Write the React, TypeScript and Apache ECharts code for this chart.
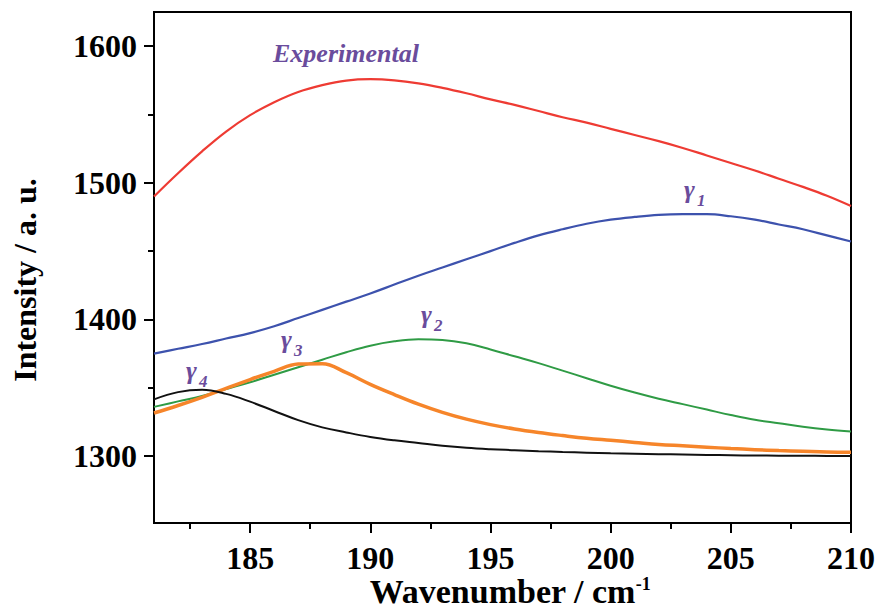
import React, { useEffect, useRef } from "react";
import * as echarts from "echarts";

const wavenumber = [181, 182, 183, 184, 185, 186, 187, 188, 189, 190, 191, 192, 193, 194, 195, 196, 197, 198, 199, 200, 201, 202, 203, 204, 205, 206, 207, 208, 209, 210];

const experimental = [1490, 1507, 1523, 1537.5, 1549.5, 1559, 1566.5, 1571.5, 1574.8, 1575.8, 1575, 1572.8, 1569.5, 1565.5, 1561, 1557, 1552.5, 1548, 1544, 1539.5, 1535, 1530.5, 1525.5, 1520, 1514.5, 1509, 1503, 1497, 1490.5, 1483];
const gamma1 = [1375, 1378.5, 1382, 1386, 1390, 1395, 1401, 1407, 1413, 1419, 1425.5, 1432, 1438, 1444, 1450, 1456, 1461.5, 1466, 1470, 1473, 1475, 1476.5, 1477, 1477, 1475.5, 1473, 1469.5, 1466, 1461.5, 1457];
const gamma2 = [1336, 1340, 1344, 1349, 1354, 1359.5, 1365, 1370.5, 1376, 1380.8, 1384, 1385.5, 1385, 1382.5, 1378, 1373, 1368, 1362.5, 1357, 1351.5, 1346.5, 1342, 1338, 1334, 1330, 1326.5, 1324, 1321.5, 1319.5, 1318];
const gamma3 = [1331.5, 1337, 1343, 1349.5, 1356, 1362, 1367.3, 1367.6, 1361, 1352.5, 1345, 1338, 1332, 1327, 1323, 1319.8, 1317.2, 1315, 1313, 1311.5, 1310, 1308.5, 1307.5, 1306.5, 1305.5, 1304.7, 1304, 1303.5, 1303, 1302.8];
const gamma4 = [1341.5, 1346.8, 1348.5, 1345.5, 1339.8, 1333, 1326.3, 1321, 1317.3, 1314, 1311.5, 1309.5, 1307.5, 1306, 1305, 1304.3, 1303.6, 1303, 1302.5, 1302, 1301.7, 1301.4, 1301.1, 1300.8, 1300.6, 1300.4, 1300.3, 1300.2, 1300.1, 1300];

const xMajorTicks = [185, 190, 195, 200, 205, 210];
const xMinorTicks = [182.5, 187.5, 192.5, 197.5, 202.5, 207.5];
const yMajorTicks = [1300, 1400, 1500, 1600];
const yMinorTicks = [1350, 1450, 1550];

const FONT = "'Liberation Serif', 'Times New Roman', serif";
const PURPLE = "#6a4c9c";

const pairs = (ys: number[]) => wavenumber.map((x, i) => [x, ys[i]]);

export default function App() {
  const ref = useRef<HTMLDivElement>(null);
  useEffect(() => {
    document.body.style.margin = "0";
    const chart = echarts.init(ref.current!, null, { renderer: "svg" });
    const tickStyle = { color: "#000", width: 2 };
    const gammaLabel = (x: number, y: number, sub: string) => [
      {
        type: "text",
        x,
        y,
        style: { text: "γ", fontSize: 26, fontWeight: "bold", fontStyle: "italic", fontFamily: FONT, fill: PURPLE, align: "left", verticalAlign: "middle" },
      },
      {
        type: "text",
        x: x + 13,
        y: y + 11,
        style: { text: sub, fontSize: 17, fontWeight: "bold", fontStyle: "italic", fontFamily: FONT, fill: PURPLE, align: "left", verticalAlign: "middle" },
      },
    ];
    chart.setOption({
      animation: false,
      grid: { left: 154, right: 28, top: 12, bottom: 87, show: true, borderColor: "#000", borderWidth: 2, containLabel: false },
      xAxis: [
        {
          type: "value",
          min: 181,
          max: 210,
          position: "bottom",
          axisLine: { show: true, lineStyle: { color: "#000", width: 2 } },
          axisTick: { show: true, customValues: xMajorTicks, length: 10, inside: false, lineStyle: tickStyle },
          axisLabel: { customValues: xMajorTicks, fontSize: 32, fontWeight: "bold", fontFamily: FONT, color: "#000", margin: 20, lineHeight: 30, formatter: (v: number) => String(v) },
          splitLine: { show: false },
        },
        {
          type: "value",
          min: 181,
          max: 210,
          position: "bottom",
          offset: 0,
          axisLine: { show: false },
          axisTick: { show: true, customValues: xMinorTicks, length: 6, inside: false, lineStyle: tickStyle },
          axisLabel: { show: false },
          splitLine: { show: false },
        },
      ],
      yAxis: [
        {
          type: "value",
          min: 1251,
          max: 1625,
          position: "left",
          axisLine: { show: true, lineStyle: { color: "#000", width: 2 } },
          axisTick: { show: true, customValues: yMajorTicks, length: 10, inside: false, lineStyle: tickStyle },
          axisLabel: { customValues: yMajorTicks, fontSize: 32, fontWeight: "bold", fontFamily: FONT, color: "#000", margin: 17, formatter: (v: number) => String(v) },
          splitLine: { show: false },
        },
        {
          type: "value",
          min: 1251,
          max: 1625,
          position: "left",
          offset: 0,
          axisLine: { show: false },
          axisTick: { show: true, customValues: yMinorTicks, length: 6, inside: false, lineStyle: tickStyle },
          axisLabel: { show: false },
          splitLine: { show: false },
        },
      ],
      series: [
        { name: "Experimental", type: "line", data: pairs(experimental), smooth: 0.4, showSymbol: false, lineStyle: { color: "#ee3b33", width: 2.2 }, z: 3 },
        { name: "γ1", type: "line", data: pairs(gamma1), smooth: 0.4, showSymbol: false, lineStyle: { color: "#3d52ad", width: 2.2 }, z: 3 },
        { name: "γ2", type: "line", data: pairs(gamma2), smooth: 0.4, showSymbol: false, lineStyle: { color: "#2f9b45", width: 2 }, z: 3 },
        { name: "γ3", type: "line", data: pairs(gamma3), smooth: 0.4, showSymbol: false, lineStyle: { color: "#f6852a", width: 3.5 }, z: 4 },
        { name: "γ4", type: "line", data: pairs(gamma4), smooth: 0.4, showSymbol: false, lineStyle: { color: "#111", width: 2 }, z: 5 },
      ],
      graphic: [
        {
          type: "text",
          x: 273,
          y: 53,
          style: { text: "Experimental", fontSize: 26, fontWeight: "bold", fontStyle: "italic", fontFamily: FONT, fill: PURPLE, align: "left", verticalAlign: "middle" },
        },
        ...gammaLabel(684, 189, "1"),
        ...gammaLabel(421, 314, "2"),
        ...gammaLabel(281, 339, "3"),
        ...gammaLabel(186, 370, "4"),
        {
          type: "text",
          x: 510,
          y: 591,
          style: {
            text: "{t|Wavenumber / cm}{s|-1}",
            align: "center",
            verticalAlign: "middle",
            rich: {
              t: { fontSize: 34, fontWeight: "bold", fontFamily: FONT, fill: "#000", lineHeight: 32 },
              s: { fontSize: 18, fontWeight: "bold", fontFamily: FONT, fill: "#000", lineHeight: 18, verticalAlign: "top" },
            },
          },
        },
        {
          type: "text",
          x: 25,
          y: 280,
          rotation: Math.PI / 2,
          style: { text: "Intensity / a. u.", fontSize: 32, fontWeight: "bold", fontFamily: FONT, fill: "#000", align: "center", verticalAlign: "middle" },
        },
      ],
    });
    return () => chart.dispose();
  }, []);
  return <div ref={ref} style={{ width: 879, height: 610 }} />;
}
